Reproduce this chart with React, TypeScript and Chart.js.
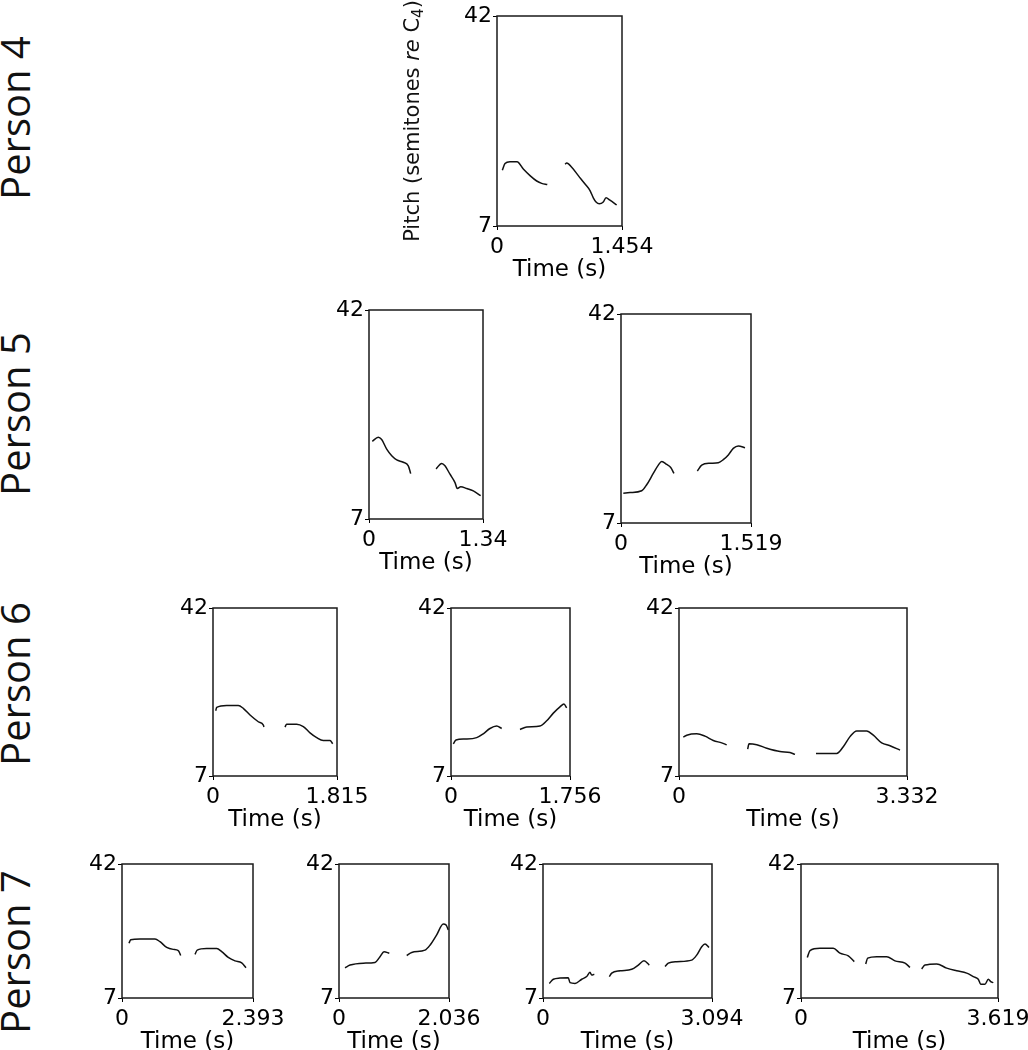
import React, { useEffect, useRef } from 'react';
import { Chart, registerables } from 'chart.js';

Chart.register(...registerables);

// ---------- data (time in s, pitch in semitones re C4), one inner array per voiced segment ----------
const yTicks = [7, 42];
const rowLabels = ['Person 4', 'Person 5', 'Person 6', 'Person 7'];
const xMaxLabels = ['1.454', '1.34', '1.519', '1.815', '1.756', '3.332', '2.393', '2.036', '3.094', '3.619'];

const person4_1_time = [
  [0.062, 0.093, 0.151, 0.233, 0.306, 0.384, 0.462, 0.52, 0.585],
  [0.791, 0.811, 0.869, 0.946, 1.024, 1.082, 1.12, 1.152, 1.19, 1.236, 1.268, 1.314, 1.392],
];
const person4_1_pitch = [
  [16.3, 17.4, 17.7, 17.7, 16.5, 15.4, 14.5, 14.1, 13.9],
  [17.3, 17.5, 16.8, 15.4, 14.0, 12.9, 11.7, 11.0, 10.7, 11.0, 11.7, 11.3, 10.5],
];

const person5_1_time = [
  [0.039, 0.109, 0.149, 0.208, 0.267, 0.326, 0.403, 0.462, 0.49],
  [0.788, 0.855, 0.893, 0.952, 1.011, 1.038, 1.078, 1.149, 1.226, 1.313],
];
const person5_1_pitch = [
  [20.0, 20.7, 20.3, 18.7, 17.6, 16.9, 16.5, 15.9, 14.6],
  [15.4, 16.3, 15.9, 14.5, 13.1, 12.1, 12.4, 12.1, 11.7, 10.9],
];

const person5_2_time = [
  [0.027, 0.105, 0.242, 0.3, 0.377, 0.436, 0.476, 0.534, 0.581, 0.619],
  [0.892, 0.943, 1.04, 1.137, 1.195, 1.254, 1.312, 1.371, 1.449],
];
const person5_2_pitch = [
  [12.0, 12.1, 12.4, 13.4, 15.3, 16.7, 17.3, 16.8, 16.3, 15.3],
  [15.7, 16.7, 17.0, 17.1, 17.6, 18.4, 19.5, 19.9, 19.6],
];

const person6_1_time = [
  [0.04, 0.054, 0.2, 0.37, 0.443, 0.542, 0.663, 0.737, 0.746],
  [1.054, 1.078, 1.225, 1.322, 1.42, 1.518, 1.614, 1.713, 1.752],
];
const person6_1_pitch = [
  [20.6, 21.3, 21.7, 21.7, 21.1, 19.7, 18.3, 17.6, 17.2],
  [17.2, 17.8, 17.8, 17.3, 16.0, 15.0, 14.4, 14.4, 13.7],
];

const person6_2_time = [
  [0.034, 0.074, 0.207, 0.379, 0.477, 0.575, 0.674, 0.748],
  [1.018, 1.117, 1.313, 1.412, 1.51, 1.608, 1.667, 1.707],
];
const person6_2_pitch = [
  [13.7, 14.5, 14.7, 15.0, 15.8, 16.9, 17.4, 16.9],
  [16.7, 17.2, 17.4, 18.5, 20.1, 21.4, 22.0, 21.2],
];

const person6_3_time = [
  [0.063, 0.113, 0.259, 0.38, 0.501, 0.624, 0.697],
  [1.004, 1.023, 1.136, 1.282, 1.476, 1.622, 1.695],
  [2.002, 2.305, 2.401, 2.499, 2.597, 2.743, 2.84, 2.962, 3.084, 3.23],
];
const person6_3_pitch = [
  [15.1, 15.5, 15.8, 15.3, 14.4, 13.9, 13.5],
  [12.6, 13.7, 13.5, 12.8, 12.1, 11.9, 11.5],
  [11.7, 11.7, 13.1, 15.2, 16.4, 16.4, 15.5, 13.9, 13.3, 12.4],
];

const person7_1_time = [
  [0.128, 0.159, 0.329, 0.603, 0.694, 0.817, 0.937, 1.028, 1.072],
  [1.333, 1.374, 1.545, 1.73, 1.821, 1.941, 2.064, 2.187, 2.265],
];
const person7_1_pitch = [
  [21.3, 22.2, 22.4, 22.4, 21.7, 20.2, 19.7, 19.4, 18.1],
  [18.4, 19.5, 19.9, 19.9, 19.1, 17.6, 16.7, 16.2, 14.9],
];

const person7_2_time = [
  [0.111, 0.204, 0.45, 0.666, 0.759, 0.833, 0.931],
  [1.253, 1.346, 1.592, 1.684, 1.808, 1.93, 1.98, 2.023],
];
const person7_2_pitch = [
  [14.9, 15.6, 16.1, 16.3, 17.8, 19.1, 18.7],
  [18.1, 18.9, 19.5, 20.8, 23.5, 26.3, 26.1, 24.8],
];

const person7_3_time = [
  [0.115, 0.189, 0.311, 0.463, 0.494, 0.586, 0.709, 0.8, 0.86, 0.892, 0.939],
  [1.214, 1.258, 1.41, 1.624, 1.745, 1.849, 1.946],
  [2.234, 2.294, 2.448, 2.722, 2.814, 2.906, 2.966, 3.039],
];
const person7_3_pitch = [
  [10.8, 11.9, 12.2, 12.3, 11.0, 10.8, 11.9, 12.6, 13.7, 13.0, 13.2],
  [12.6, 13.5, 14.1, 14.5, 15.6, 16.7, 15.6],
  [15.2, 16.1, 16.5, 16.9, 18.2, 20.4, 21.1, 20.2],
];

const person7_4_time = [
  [0.116, 0.165, 0.349, 0.593, 0.716, 0.869, 0.979],
  [1.189, 1.225, 1.391, 1.574, 1.727, 1.911, 2.002],
  [2.217, 2.278, 2.493, 2.677, 2.86, 3.044, 3.165, 3.257, 3.301, 3.38, 3.441, 3.485, 3.533],
];
const person7_4_pitch = [
  [17.6, 19.4, 20.0, 20.0, 18.7, 18.0, 16.5],
  [15.9, 17.4, 17.8, 17.8, 16.7, 16.1, 15.0],
  [14.6, 15.6, 15.9, 14.8, 14.1, 13.5, 12.6, 11.9, 10.6, 10.6, 11.9, 11.3, 11.0],
];

// ---------- layout (plot-area boxes in page pixels) ----------
const panels = [
  { key: 'p4_1', times: person4_1_time, pitches: person4_1_pitch, label: xMaxLabels[0], box: [497, 16, 622, 226], yTitle: true },
  { key: 'p5_1', times: person5_1_time, pitches: person5_1_pitch, label: xMaxLabels[1], box: [369, 310, 483, 519] },
  { key: 'p5_2', times: person5_2_time, pitches: person5_2_pitch, label: xMaxLabels[2], box: [621, 314, 751, 523] },
  { key: 'p6_1', times: person6_1_time, pitches: person6_1_pitch, label: xMaxLabels[3], box: [213, 608, 337, 776] },
  { key: 'p6_2', times: person6_2_time, pitches: person6_2_pitch, label: xMaxLabels[4], box: [451, 608, 570, 776] },
  { key: 'p6_3', times: person6_3_time, pitches: person6_3_pitch, label: xMaxLabels[5], box: [679, 608, 907, 776] },
  { key: 'p7_1', times: person7_1_time, pitches: person7_1_pitch, label: xMaxLabels[6], box: [122, 864, 253, 998] },
  { key: 'p7_2', times: person7_2_time, pitches: person7_2_pitch, label: xMaxLabels[7], box: [339, 864, 449, 998] },
  { key: 'p7_3', times: person7_3_time, pitches: person7_3_pitch, label: xMaxLabels[8], box: [543, 864, 712, 998] },
  { key: 'p7_4', times: person7_4_time, pitches: person7_4_pitch, label: xMaxLabels[9], box: [801, 864, 998, 998] },
];
const rowLabelY = [118, 414, 684, 952];

const FONT = '"DejaVu Sans", Verdana, sans-serif';
const PAD_T = 16;
const PAD_R = 40;
const PAD_B = 62;

const framePlugin = {
  id: 'frame',
  afterDraw(chart: any) {
    const { ctx, chartArea } = chart;
    ctx.save();
    ctx.strokeStyle = '#1a1a1a';
    ctx.lineWidth = 1.5;
    ctx.strokeRect(chartArea.left, chartArea.top, chartArea.right - chartArea.left, chartArea.bottom - chartArea.top);
    ctx.restore();
  },
};

const yTitlePlugin = {
  id: 'pitchTitle',
  afterDraw(chart: any) {
    const { ctx, chartArea } = chart;
    const parts = [
      { text: 'Pitch (semitones ', font: `21px ${FONT}`, dy: 0 },
      { text: 're', font: `italic 21px ${FONT}`, dy: 0 },
      { text: ' C', font: `21px ${FONT}`, dy: 0 },
      { text: '4', font: `15px ${FONT}`, dy: 5 },
      { text: ')', font: `21px ${FONT}`, dy: 0 },
    ];
    ctx.save();
    let total = 0;
    for (const p of parts) {
      ctx.font = p.font;
      total += ctx.measureText(p.text).width;
    }
    const cx = chartArea.left - 83;
    const cy = (chartArea.top + chartArea.bottom) / 2;
    ctx.translate(cx, cy);
    ctx.rotate(-Math.PI / 2);
    ctx.fillStyle = '#111';
    ctx.textBaseline = 'middle';
    ctx.textAlign = 'left';
    let x = -total / 2;
    for (const p of parts) {
      ctx.font = p.font;
      ctx.fillText(p.text, x, p.dy);
      x += ctx.measureText(p.text).width;
    }
    ctx.restore();
  },
};

function Panel({ spec }: { spec: any }) {
  const ref = useRef<HTMLCanvasElement>(null);
  const padL = spec.yTitle ? 100 : 40;
  const [l, t, r, b] = spec.box;
  const width = r - l + padL + PAD_R;
  const height = b - t + PAD_T + PAD_B;
  const xMax = parseFloat(spec.label);

  useEffect(() => {
    if (!ref.current) return;
    const datasets = spec.times.map((ts: number[], i: number) => ({
      data: ts.map((tv: number, j: number) => ({ x: tv, y: spec.pitches[i][j] })),
      borderColor: '#111',
      borderWidth: 1.5,
      pointRadius: 0,
      fill: false,
      cubicInterpolationMode: 'monotone',
    }));
    const tickFont = { family: FONT, size: 22 };
    const titleFont = { family: FONT, size: 23 };
    const chart = new Chart(ref.current, {
      type: 'line',
      data: { datasets },
      options: {
        animation: false,
        responsive: false,
        events: [],
        layout: { padding: { left: 0, top: PAD_T, right: PAD_R, bottom: 0 } },
        plugins: { legend: { display: false }, tooltip: { enabled: false }, title: { display: false } },
        scales: {
          x: {
            type: 'linear',
            min: 0,
            max: xMax,
            afterBuildTicks: (axis: any) => {
              axis.ticks = [{ value: 0 }, { value: xMax }];
            },
            afterFit: (axis: any) => {
              axis.height = PAD_B;
            },
            ticks: {
              autoSkip: false,
              maxRotation: 0,
              minRotation: 0,
              padding: 4,
              color: '#000',
              font: tickFont,
              callback: (v: any) => (v === 0 ? '0' : spec.label),
            },
            grid: { display: true, drawOnChartArea: false, drawTicks: true, tickLength: 4, color: '#000', lineWidth: 1 },
            border: { display: false },
            title: { display: true, text: 'Time (s)', color: '#000', font: titleFont, padding: { top: 0, bottom: 4 } },
          },
          y: {
            type: 'linear',
            min: yTicks[0],
            max: yTicks[1],
            afterBuildTicks: (axis: any) => {
              axis.ticks = yTicks.map((v) => ({ value: v }));
            },
            afterFit: (axis: any) => {
              axis.width = padL;
            },
            ticks: {
              autoSkip: false,
              padding: 1,
              color: '#000',
              font: tickFont,
              callback: (v: any) => String(v),
            },
            grid: { display: true, drawOnChartArea: false, drawTicks: true, tickLength: 4, color: '#000', lineWidth: 1 },
            border: { display: false },
          },
        },
      } as any,
      plugins: spec.yTitle ? [framePlugin, yTitlePlugin] : [framePlugin],
    });
    return () => chart.destroy();
  }, []);

  return (
    <canvas
      ref={ref}
      width={width}
      height={height}
      style={{ position: 'absolute', left: l - padL, top: t - PAD_T, width, height, display: 'block' }}
    />
  );
}

export default function App() {
  return (
    <div
      style={{
        position: 'absolute',
        left: 0,
        top: 0,
        width: 1028,
        height: 1050,
        overflow: 'hidden',
        background: '#fff',
      }}
    >
      {rowLabels.map((txt, i) => (
        <div
          key={txt}
          style={{
            position: 'absolute',
            left: 15,
            top: rowLabelY[i],
            transform: 'translate(-50%, -50%) rotate(-90deg)',
            whiteSpace: 'nowrap',
            fontFamily: '"Open Sans", "DejaVu Sans", sans-serif',
            fontSize: 40,
            lineHeight: 1,
            color: '#111',
          }}
        >
          {txt}
        </div>
      ))}
      {panels.map((p) => (
        <Panel key={p.key} spec={p} />
      ))}
    </div>
  );
}
